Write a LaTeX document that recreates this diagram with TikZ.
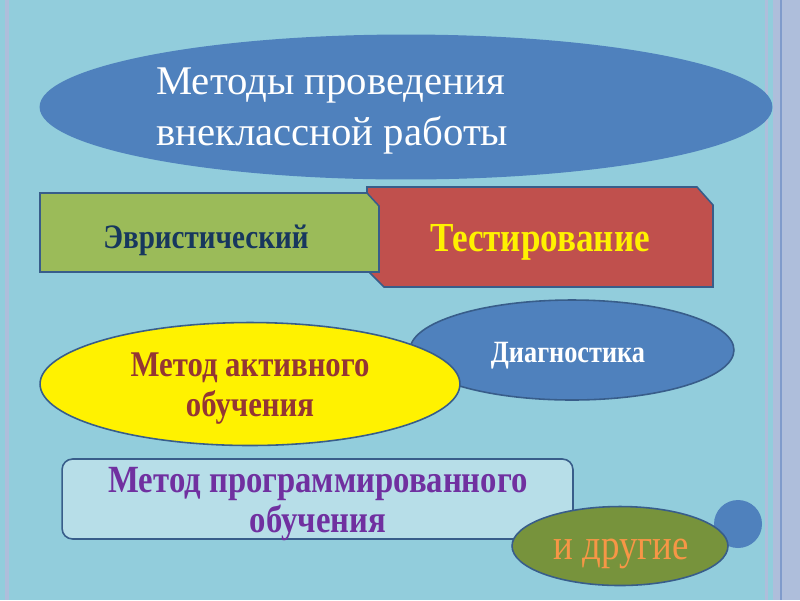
\documentclass[tikz,border=0pt]{standalone}
\usepackage{fontspec}
\setmainfont{Liberation Serif}
\newfontfamily\narrowfont[FakeStretch=0.85]{Liberation Serif}
\usetikzlibrary{shapes.geometric,positioning}
\definecolor{slidebg}{HTML}{92CDDC}
\definecolor{stripe}{HTML}{AEBEDB}
\definecolor{rule}{HTML}{7F9BCB}
\definecolor{ovalblue}{HTML}{4F81BD}
\definecolor{edge}{HTML}{385D8A}
\definecolor{leaf}{HTML}{9BBB59}
\definecolor{brick}{HTML}{C0504D}
\definecolor{olive}{HTML}{77933C}
\definecolor{paleblue}{HTML}{B7DEE8}
\definecolor{navy}{HTML}{17375E}
\definecolor{wine}{HTML}{943634}
\definecolor{violet}{HTML}{7030A0}
\definecolor{peach}{HTML}{F79646}

\begin{document}
\begin{tikzpicture}[x=0.02cm,y=-0.02cm,
  oval/.style={ellipse,draw=edge,line width=0.9pt,inner sep=0pt},
  panel/.style={draw=edge,line width=0.9pt},
  word/.style={align=center,inner sep=0pt},
]
% slide background
\fill[slidebg] (0,0) rectangle (800,600);
\fill[stripe] (5,0) rectangle (9,600);
\fill[stripe] (765,0) rectangle (768,600);
\fill[stripe] (773,0) rectangle (800,600);
\fill[rule] (780,0) rectangle (781.5,600);
\useasboundingbox (0,0) rectangle (800,600);

% title
\node[ellipse,fill=ovalblue,minimum width=14.66cm,minimum height=2.9cm,inner sep=0pt] (title) at (406,107) {};
\node[anchor=west,align=left,text=white,font=\fontsize{23.2}{28.5}\selectfont] (titletext) at (150,111) {Методы проведения\\внеклассной работы};

% snipped boxes
\draw[panel,fill=brick] (367,187) -- (697,187) -- (713,205) -- (713,287) -- (384,287) -- (367,270) -- cycle;
\draw[panel,fill=leaf] (40,193) -- (367,193) -- (379,206) -- (379,272) -- (40,272) -- cycle;
\node[word,text=navy,font=\narrowfont\bfseries\fontsize{19.5}{23}\selectfont] (heuristic) at (206,240) {Эвристический};
\node[word,text=yellow,font=\narrowfont\bfseries\fontsize{23.5}{28}\selectfont] (testing) at (540,242) {Тестирование};

% ovals
\node[oval,fill=ovalblue,minimum width=6.48cm,minimum height=2cm] (diag) at (572,350) {};
\node[word,text=white,font=\narrowfont\bfseries\fontsize{17.6}{21}\selectfont] (diagtext) at (568,356) {Диагностика};
\node[oval,fill=yellow,minimum width=8.4cm,minimum height=2.46cm] (active) at (250,384) {};
\node[word,text=wine,font=\narrowfont\bfseries\fontsize{20.6}{22.8}\selectfont] (activetext) at (250,389) {Метод активного\\обучения};

% programmed learning
\node[panel,fill=paleblue,rounded corners=6pt,minimum width=10.22cm,minimum height=1.6cm,inner sep=0pt] (programmed) at (317.5,499) {};
\node[word,text=violet,font=\narrowfont\bfseries\fontsize{21.9}{22.8}\selectfont] (programmedtext) at (318,504) {Метод программированного\\обучения};
\node[circle,fill=ovalblue,minimum size=0.96cm,inner sep=0pt] (dot) at (738,524) {};
\node[oval,fill=olive,minimum width=4.32cm,minimum height=1.58cm] (others) at (620,546) {};
\node[word,text=peach,font=\narrowfont\fontsize{24.7}{28}\selectfont] (otherstext) at (621,554) {и другие};
\end{tikzpicture}
\end{document}
